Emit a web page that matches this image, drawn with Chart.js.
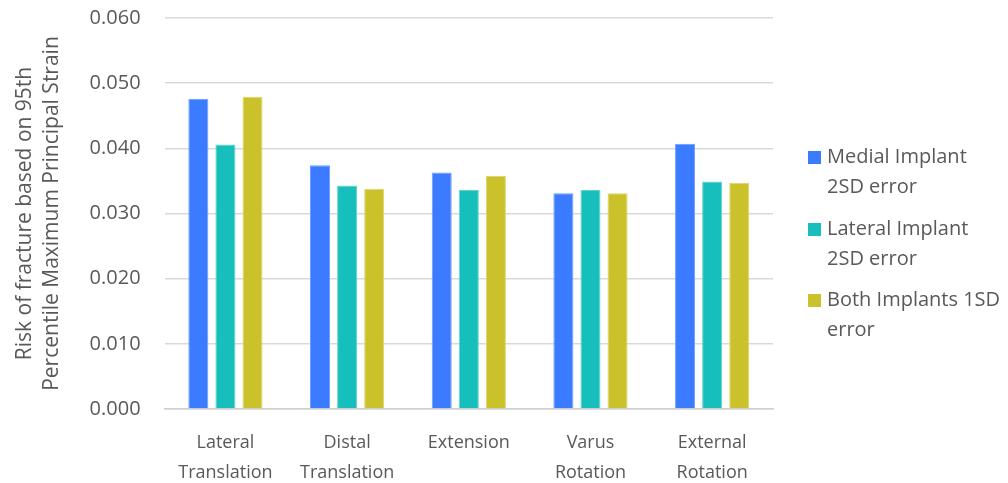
<!DOCTYPE html>
<html>
<head>
<meta charset="utf-8">
<script src="https://cdn.jsdelivr.net/npm/chart.js@4.4.1/dist/chart.umd.min.js"></script>
<style>
  html, body { margin: 0; padding: 0; background: #fff; }
  #wrap { width: 1008px; height: 483px; position: relative; }
</style>
</head>
<body>
<div id="wrap"><canvas id="riskChart"></canvas></div>
<script>
// --- data ---
const categories = [
    ['Lateral', 'Translation'],
    ['Distal', 'Translation'],
    ['Extension'],
    ['Varus', 'Rotation'],
    ['External', 'Rotation']
];
const seriesNames = [
    ['Medial Implant', '2SD error'],
    ['Lateral Implant', '2SD error'],
    ['Both Implants 1SD', 'error']
];
const medialValues = [0.0476, 0.0374, 0.0363, 0.0331, 0.0407];
const lateralValues = [0.0406, 0.0343, 0.0336, 0.0336, 0.0349];
const bothValues = [0.0479, 0.0338, 0.0358, 0.0331, 0.0347];
const yTicks = [0, 0.01, 0.02, 0.03, 0.04, 0.05, 0.06];

const seriesColors = ['#3a7bff', '#16bfbb', '#cbc22b'];
const seriesEdges = ['#6f9dff', '#5fd3cf', '#dcd56a'];
const textColor = '#595959';
const fontFamily = "'Open Sans', 'Noto Sans', sans-serif";

// --- legend with wrapped labels, drawn on the right ---
const sideLegend = {
    id: 'sideLegend',
    afterDraw(chart) {
        const ctx = chart.ctx;
        const x = 808;
        const entryTops = [145, 217, 288];
        ctx.save();
        ctx.font = '20px ' + fontFamily;
        ctx.textBaseline = 'middle';
        chart.data.datasets.forEach((ds, i) => {
            const top = entryTops[i];
            ctx.fillStyle = ds.backgroundColor;
            ctx.fillRect(x, top + 6, 13, 13);
            ctx.fillStyle = textColor;
            seriesNames[i].forEach((line, j) => {
                ctx.fillText(line, x + 19, top + 12 + j * 30);
            });
        });
        ctx.restore();
    }
};

const datasets = [medialValues, lateralValues, bothValues].map((values, i) => ({
    label: seriesNames[i].join(' '),
    data: values,
    backgroundColor: seriesColors[i],
    borderColor: seriesEdges[i],
    borderWidth: 1,
    categoryPercentage: 0.668,
    barPercentage: 0.74
}));

new Chart(document.getElementById('riskChart'), {
    type: 'bar',
    data: { labels: categories, datasets: datasets },
    options: {
        responsive: true,
        maintainAspectRatio: false,
        animation: false,
        layout: { padding: { top: 18, right: 235, bottom: 0, left: 11 } },
        plugins: {
            legend: { display: false },
            tooltip: { enabled: false }
        },
        scales: {
            x: {
                grid: { display: false },
                border: { display: true, color: '#d0d0d0', width: 1.5 },
                afterFit: axis => { axis.height = 74; },
                ticks: {
                    color: textColor,
                    padding: 11,
                    maxRotation: 0,
                    autoSkip: false,
                    font: { family: fontFamily, size: 18, lineHeight: 1.65 }
                }
            },
            y: {
                min: 0,
                max: 0.06,
                afterBuildTicks: axis => { axis.ticks = yTicks.map(v => ({ value: v })); },
                // invisible tick marks give the gap between labels and plot
                grid: { color: '#d9d9d9', lineWidth: 1.5, drawTicks: true, tickLength: 21, tickColor: 'rgba(0,0,0,0)' },
                border: { display: false },
                ticks: {
                    color: textColor,
                    padding: 3,
                    font: { family: fontFamily, size: 20 },
                    callback: v => v.toFixed(3)
                },
                title: {
                    display: true,
                    text: ['Risk of fracture based on 95th', 'Percentile Maximum Principal Strain'],
                    color: textColor,
                    padding: { top: 0, bottom: 21 },
                    font: { family: fontFamily, size: 21, lineHeight: 1.3 }
                }
            }
        }
    },
    plugins: [sideLegend]
});
</script>
</body>
</html>
